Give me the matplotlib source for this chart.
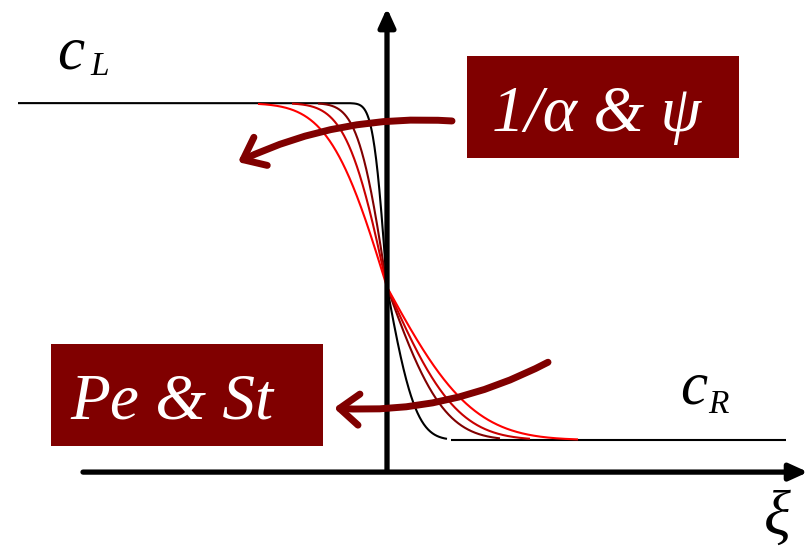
"""Travelling-front sketch: concentration profiles c(xi) between c_L and c_R."""
import math

import numpy as np
import matplotlib
matplotlib.use("Agg")
import matplotlib.pyplot as plt  # noqa: E402
from matplotlib.patches import FancyArrowPatch, Rectangle  # noqa: E402

# plateau levels and the common crossing value at xi = 0
c_left = 1.0
c_right = 0.0
c_cross = 0.454

# one front per parameter set: left/right widths, colour and drawn xi-range
width_left = [0.15, 0.32, 0.45, 0.64]
width_right = [0.32, 0.63, 0.77, 0.95]
front_colors = ["#000000", "#800000", "#c80000", "#ff0000"]
front_start = [-3.69, -0.69, -0.95, -1.29]
front_end = [0.60, 1.13, 1.43, 1.91]

# right plateau segment (c_R)
plateau_right = [0.64, 3.99]

DARK_RED = "#800000"
SERIF = "Liberation Serif"

_erfc = np.vectorize(math.erfc)


def profile(xi, wl, wr):
    # two-sided erfc front, pinned at c_cross for xi = 0
    up = c_left - (c_left - c_cross) * _erfc(-xi / wl)
    down = c_right + (c_cross - c_right) * _erfc(xi / wr)
    return np.where(xi < 0, up, down)


fig = plt.figure(figsize=(8.06, 5.56), dpi=100)
ax = fig.add_axes([0, 0, 1, 1])
ax.set_xlim(-3.87, 4.19)
ax.set_ylim(-0.344, 1.306)
ax.axis("off")

# coordinate axes
axis_arrow = dict(arrowstyle="-|>,head_length=0.55,head_width=0.25",
                  lw=3.8, color="k", shrinkA=0, shrinkB=0, mutation_scale=20)
ax.annotate("", xy=(4.21, -0.095), xytext=(-3.04, -0.095),
            arrowprops=axis_arrow, annotation_clip=False)
ax.annotate("", xy=(0.0, 1.282), xytext=(0.0, -0.09),
            arrowprops=axis_arrow, annotation_clip=False)

# right plateau
ax.plot(plateau_right, [c_right, c_right], color="k", lw=1.5,
        solid_capstyle="butt")

# front profiles
for wl, wr, col, a, b in zip(width_left, width_right, front_colors,
                             front_start, front_end):
    xi = np.linspace(a, b, 800)
    ax.plot(xi, profile(xi, wl, wr), color=col, lw=1.5, solid_capstyle="butt")

# parameter boxes
ax.add_patch(Rectangle((0.80, 0.837), 2.72, 0.302, facecolor=DARK_RED,
                       edgecolor="none", zorder=3))
ax.text(1.05, 0.917, r"1/α & ψ", color="white", fontsize=47, family=SERIF,
        style="italic", ha="left", va="baseline", zorder=4)
ax.add_patch(Rectangle((-3.36, -0.018), 2.72, 0.303, facecolor=DARK_RED,
                       edgecolor="none", zorder=3))
ax.text(-3.17, 0.065, "Pe & St", color="white", fontsize=47, family=SERIF,
        style="italic", ha="left", va="baseline", zorder=4)

# curved arrows showing the trend with increasing parameters
for start, end, rad in [((0.65, 0.947), (-1.49, 0.825), 0.13),
                        ((1.61, 0.231), (-0.53, 0.095), -0.14)]:
    ax.add_patch(FancyArrowPatch(start, end,
                                 connectionstyle=f"arc3,rad={rad}",
                                 arrowstyle="->,head_length=1.0,head_width=0.8",
                                 mutation_scale=14, lw=5, color=DARK_RED,
                                 capstyle="round", joinstyle="round",
                                 shrinkA=0, shrinkB=0, zorder=5))

# level and axis labels
ax.text(-3.30, 1.104, "c", fontsize=44, family=SERIF, style="italic",
        ha="left", va="baseline")
ax.text(-2.97, 1.083, "L", fontsize=24, family=SERIF, style="italic",
        ha="left", va="baseline")
ax.text(2.93, 0.110, "c", fontsize=44, family=SERIF, style="italic",
        ha="left", va="baseline")
ax.text(3.21, 0.080, "R", fontsize=24, family=SERIF, style="italic",
        ha="left", va="baseline")
ax.text(3.77, -0.150, "ξ", fontsize=45, family=SERIF, style="italic",
        ha="left", va="top")

fig.savefig("out.png", dpi=100)
